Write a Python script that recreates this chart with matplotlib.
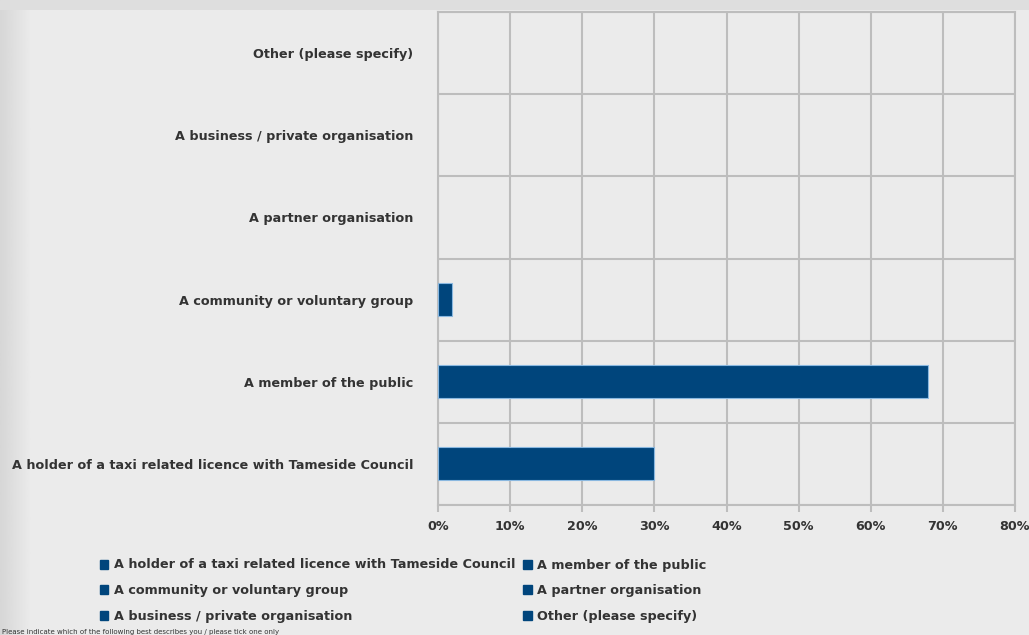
import numpy as np
import matplotlib.pyplot as plt
from matplotlib.patches import Patch

# categories listed bottom -> top, as they appear on the chart
categories = [
    "A holder of a taxi related licence with Tameside Council",
    "A member of the public",
    "A community or voluntary group",
    "A partner organisation",
    "A business / private organisation",
    "Other (please specify)",
]
values = [30, 68, 2, 0, 0, 0]  # percent
xticks = [0, 10, 20, 30, 40, 50, 60, 70, 80]
legend_order = [0, 2, 4, 1, 3, 5]  # row-major like the original legend
footnote = "Please indicate which of the following best describes you / please tick one only"

bg = "#ebebeb"
bar_col = "#00457c"
grid_col = "#bdbdbd"
txt_col = "#333333"
fs = 9.2

plt.rcParams["font.family"] = ["DejaVu Sans"]

fig = plt.figure(figsize=(10.29, 6.35), dpi=100, facecolor=bg)

# soft shadow along the left and top edge
sh = fig.add_axes([0, 0, 0.03, 1], zorder=-1)
sh.imshow(np.linspace(0.84, 0.92, 50).reshape(1, -1), cmap="gray", vmin=0, vmax=1,
          aspect="auto", extent=[0, 1, 0, 1])
sh.axis("off")
top = fig.add_axes([0, 0.985, 1, 0.015], zorder=-1)
top.axis("off")
top.add_patch(plt.Rectangle((0, 0), 1, 1, color="#dedede", transform=top.transAxes))

ax = fig.add_axes([438 / 1029, 1 - 505 / 635, 577 / 1029, 493 / 635])
ax.set_facecolor(bg)

y = np.arange(len(categories))
widths = [0.8 if v > 0 else 0 for v in values]
ax.barh(y, values, height=0.4, color=bar_col, edgecolor="#8ab8e0", linewidth=widths, zorder=3)

ax.set_xlim(0, 80)
ax.set_ylim(-0.5, len(categories) - 0.5)
ax.set_xticks(xticks)
ax.set_xticklabels([f"{v}%" for v in xticks], fontsize=fs, color=txt_col, fontweight="semibold")
ax.set_yticks(y)
ax.set_yticklabels(categories, fontsize=fs, color=txt_col, fontweight="semibold")
ax.set_yticks(np.arange(len(categories) + 1) - 0.5, minor=True)
ax.tick_params(axis="y", which="both", length=0, pad=18)
ax.tick_params(axis="x", length=5, color=grid_col, width=1.5, pad=6)

ax.grid(axis="x", color=grid_col, linewidth=1.5, zorder=0)
ax.grid(axis="y", which="minor", color=grid_col, linewidth=1.5, zorder=0)
ax.grid(axis="y", which="major", visible=False)
for s in ax.spines.values():
    s.set_color(grid_col)
    s.set_linewidth(1.5)

handles = [Patch(facecolor=bar_col, edgecolor=bar_col) for _ in categories]
fig.legend([handles[i] for i in legend_order], [categories[i] for i in legend_order],
           ncol=2, loc="upper left", bbox_to_anchor=(88 / 1029, 1 - 547 / 635),
           frameon=False, handlelength=0.7, handleheight=0.7,
           handletextpad=0.4, columnspacing=0.6, labelspacing=0.98,
           labelcolor=txt_col, prop={"weight": "semibold", "size": fs})

fig.text(0.002, 0.0, footnote, fontsize=5.0, color=txt_col, ha="left", va="bottom")

fig.savefig("out.png", dpi=100, facecolor=bg)
